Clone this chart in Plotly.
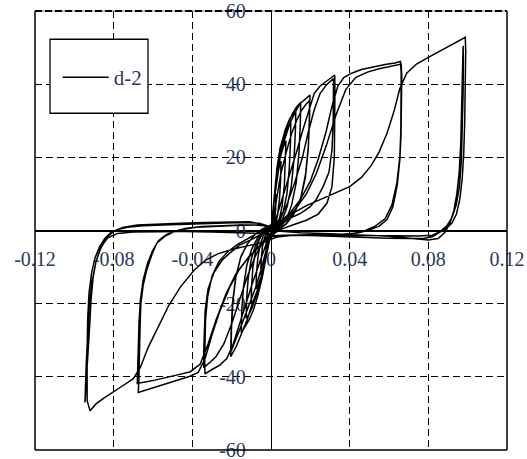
import plotly.graph_objects as go

# Load (kN) versus drift ratio, specimen d-2; one list pair per loading cycle.
c01_x = [0.0, 0.0008, 0.0016, 0.0025, 0.0024, 0.0018, 0.0010, 0.0003,
         -0.0005, -0.0012, -0.0020, -0.0026, -0.0025, -0.0019, -0.0010, 0.0]
c01_y = [0.0, 4.5, 8.0, 10.0, 6.0, 2.5, 0.5, -0.5,
         -2.0, -4.5, -6.0, -7.0, -4.0, -1.5, 0.0, 0.5]

c02_x = [0.0005, 0.0015, 0.0028, 0.0040, 0.0051, 0.0049, 0.0043, 0.0033, 0.0020, 0.0008,
         -0.0008, -0.0018, -0.0030, -0.0042, -0.0052, -0.0050, -0.0044, -0.0033, -0.0020, -0.0008]
c02_y = [2.0, 8.0, 13.5, 17.0, 19.0, 14.0, 8.5, 4.0, 1.2, -0.5,
         -2.5, -5.5, -8.5, -10.8, -12.0, -8.0, -4.5, -2.0, -0.3, 0.8]

c03_x = [0.0003, 0.0015, 0.0030, 0.0045, 0.0060, 0.0076, 0.0074, 0.0068, 0.0056, 0.0040, 0.0022, 0.0008,
         -0.0008, -0.0020, -0.0035, -0.0050, -0.0063, -0.0076, -0.0074, -0.0067, -0.0055, -0.0040, -0.0022, -0.0008]
c03_y = [1.5, 8.0, 15.0, 19.5, 22.5, 24.5, 19.0, 12.5, 6.5, 2.5, 0.5, -0.8,
         -2.5, -6.0, -9.5, -12.5, -14.5, -16.0, -12.0, -7.5, -3.8, -1.5, 0.3, 1.2]

c04_x = [0.0003, 0.0015, 0.0030, 0.0046, 0.0065, 0.0082, 0.0101, 0.0099, 0.0093, 0.0081, 0.0062, 0.0040, 0.0020, 0.0006,
         -0.0008, -0.0022, -0.0040, -0.0056, -0.0072, -0.0087, -0.0101, -0.0099, -0.0092, -0.0078, -0.0060, -0.0040, -0.0020, -0.0006]
c04_y = [1.5, 9.0, 17.0, 22.5, 26.0, 28.0, 29.5, 24.0, 17.0, 10.0, 5.0, 2.0, 0.3, -1.0,
         -2.5, -6.5, -11.0, -14.5, -17.0, -18.8, -20.0, -15.5, -10.0, -5.5, -2.5, -0.5, 0.8, 1.2]

c05_x = [0.0004, 0.0018, 0.0035, 0.0052, 0.0072, 0.0095, 0.0112, 0.0126, 0.0124, 0.0117, 0.0103, 0.0082, 0.0058, 0.0034, 0.0015, 0.0004,
         -0.0008, -0.0022, -0.0040, -0.0060, -0.0080, -0.0098, -0.0113, -0.0126, -0.0124, -0.0116, -0.0101, -0.0080, -0.0056, -0.0033, -0.0014, -0.0003]
c05_y = [2.0, 10.0, 18.0, 23.5, 27.5, 30.5, 31.8, 32.5, 27.0, 19.5, 12.0, 6.5, 3.0, 1.0, -0.3, -1.0,
         -2.5, -6.5, -11.5, -15.5, -18.8, -21.3, -23.0, -24.0, -19.0, -13.0, -8.0, -4.3, -1.8, 0.0, 1.0, 1.2]

c06_x = [0.0004, 0.0020, 0.0040, 0.0060, 0.0085, 0.0110, 0.0130, 0.0151, 0.0149, 0.0142, 0.0128, 0.0105, 0.0078, 0.0048, 0.0022, 0.0005,
         -0.0008, -0.0024, -0.0045, -0.0068, -0.0090, -0.0112, -0.0132, -0.0151, -0.0149, -0.0140, -0.0123, -0.0098, -0.0068, -0.0040, -0.0016, -0.0003]
c06_y = [2.0, 11.0, 19.0, 24.5, 29.0, 32.0, 33.8, 35.0, 29.0, 21.0, 13.0, 7.0, 3.0, 1.0, -0.3, -1.2,
         -2.5, -7.0, -13.0, -18.0, -21.8, -24.5, -26.5, -28.0, -22.0, -15.5, -9.5, -5.0, -2.0, 0.0, 1.0, 1.3]

c07_x = [0.0005, 0.0022, 0.0045, 0.0070, 0.0097, 0.0125, 0.0150, 0.0175, 0.0198, 0.0196, 0.0190, 0.0176, 0.0152, 0.0118, 0.0080, 0.0045, 0.0020, 0.0005,
         -0.0008, -0.0025, -0.0048, -0.0072, -0.0098, -0.0122, -0.0145, -0.0175, -0.0205, -0.0203, -0.0196, -0.0180, -0.0155, -0.0122, -0.0085, -0.0050, -0.0020, -0.0004]
c07_y = [2.0, 11.0, 19.5, 25.0, 29.4, 32.5, 34.8, 36.0, 37.0, 31.0, 23.0, 15.5, 9.0, 4.8, 2.0, 0.5, -0.5, -1.3,
         -2.5, -7.0, -12.5, -17.0, -20.5, -24.5, -27.5, -31.5, -34.5, -28.0, -20.0, -13.0, -7.5, -3.8, -1.3, 0.2, 1.0, 1.3]

c08_x = [0.0005, 0.0025, 0.0050, 0.0078, 0.0105, 0.0130, 0.0155, 0.0178, 0.0196, 0.0195, 0.0189, 0.0175, 0.0150, 0.0115, 0.0078, 0.0042, 0.0018, 0.0004,
         -0.0008, -0.0027, -0.0052, -0.0078, -0.0104, -0.0130, -0.0155, -0.0180, -0.0203, -0.0201, -0.0194, -0.0178, -0.0152, -0.0118, -0.0082, -0.0047, -0.0019, -0.0004]
c08_y = [1.0, 8.0, 15.5, 21.5, 26.5, 30.0, 32.8, 34.5, 35.5, 30.0, 22.0, 14.5, 8.5, 4.4, 1.8, 0.4, -0.6, -1.4,
         -2.0, -6.0, -11.0, -15.5, -19.5, -23.0, -26.5, -30.0, -33.0, -27.0, -19.5, -12.5, -7.0, -3.5, -1.1, 0.3, 1.1, 1.4]

c09_x = [0.0010, 0.0030, 0.0060, 0.0095, 0.0130, 0.0165, 0.0195, 0.0220, 0.0250, 0.0280, 0.0305, 0.0324,
         0.0325, 0.0325, 0.0322, 0.0310, 0.0285, 0.0240, 0.0180, 0.0110, 0.0050, 0.0010,
         -0.0010, -0.0030, -0.0060, -0.0095, -0.0130, -0.0165, -0.0195, -0.0225, -0.0260, -0.0300, -0.0336,
         -0.0337, -0.0336, -0.0333, -0.0322, -0.0300, -0.0265, -0.0220, -0.0170, -0.0110, -0.0060, -0.0020]
c09_y = [0.5, 4.0, 9.0, 15.0, 21.5, 28.0, 33.5, 37.5, 39.5, 40.8, 41.8, 42.5,
         38.0, 30.0, 20.0, 12.0, 7.5, 4.5, 2.8, 1.5, 0.3, -1.0,
         -1.5, -4.5, -9.0, -14.5, -20.5, -26.5, -31.5, -35.0, -36.8, -38.0, -39.2,
         -35.0, -30.0, -24.5, -18.0, -12.5, -8.5, -5.8, -3.8, -2.0, -0.5, 1.0]

c10_x = [0.0010, 0.0040, 0.0080, 0.0120, 0.0160, 0.0190, 0.0220, 0.0250, 0.0285, 0.0318,
         0.0318, 0.0316, 0.0310, 0.0295, 0.0265, 0.0230, 0.0200, 0.0150, 0.0110, 0.0060, 0.0020,
         -0.0010, -0.0040, -0.0080, -0.0120, -0.0160, -0.0200, -0.0240, -0.0280, -0.0310, -0.0342,
         -0.0342, -0.0340, -0.0335, -0.0320, -0.0290, -0.0250, -0.0210, -0.0160, -0.0100, -0.0050, -0.0010]
c10_y = [0.5, 3.0, 7.0, 13.0, 20.0, 27.0, 33.0, 37.5, 40.0, 41.5,
         36.0, 29.0, 22.0, 16.0, 12.0, 8.5, 6.5, 4.7, 3.7, 2.0, 0.0,
         -1.0, -3.0, -7.0, -12.5, -19.0, -25.5, -31.0, -34.5, -36.0, -37.5,
         -33.0, -28.0, -22.0, -16.0, -11.5, -8.2, -6.2, -4.0, -2.5, -1.0, 0.5]

c11_x = [0.0010, 0.0050, 0.0100, 0.0150, 0.0200, 0.0240, 0.0280, 0.0310, 0.0340, 0.0370, 0.0410, 0.0460, 0.0520, 0.0580, 0.0630, 0.0658,
         0.0662, 0.0662, 0.0660, 0.0655, 0.0640, 0.0615, 0.0580, 0.0530, 0.0480, 0.0420, 0.0350, 0.0250, 0.0150, 0.0060, 0.0010,
         -0.0020, -0.0060, -0.0110, -0.0160, -0.0210, -0.0260, -0.0300, -0.0335, -0.0370, -0.0420, -0.0480, -0.0540, -0.0600, -0.0645, -0.0675,
         -0.0672, -0.0668, -0.0666, -0.0662, -0.0650, -0.0632, -0.0605, -0.0580, -0.0540, -0.0500, -0.0450, -0.0380, -0.0280, -0.0180, -0.0080, -0.0020]
c11_y = [0.5, 2.5, 5.0, 8.5, 13.5, 19.5, 27.0, 34.0, 39.5, 41.8, 43.0, 44.0, 44.8, 45.4, 45.8, 46.2,
         43.0, 35.0, 27.0, 20.0, 13.0, 7.0, 3.2, 1.2, 0.0, -0.8, -1.1, -1.2, -1.2, -1.3, -1.5,
         -2.5, -4.5, -7.0, -10.5, -15.5, -22.0, -28.5, -35.0, -38.8, -40.0, -41.0, -42.0, -43.0, -43.6, -44.3,
         -41.0, -35.0, -27.0, -20.0, -15.0, -10.8, -6.5, -3.4, -1.6, -0.5, 0.3, 0.9, 1.2, 1.4, 1.5, 1.2]

c12_x = [0.0010, 0.0060, 0.0120, 0.0180, 0.0230, 0.0280, 0.0330, 0.0380, 0.0430, 0.0490, 0.0550, 0.0600, 0.0640, 0.0662,
         0.0665, 0.0664, 0.0661, 0.0655, 0.0642, 0.0620, 0.0590, 0.0550, 0.0500, 0.0440, 0.0360, 0.0260, 0.0160, 0.0070, 0.0010,
         -0.0020, -0.0070, -0.0120, -0.0180, -0.0230, -0.0280, -0.0320, -0.0360, -0.0410, -0.0470, -0.0530, -0.0590, -0.0640, -0.0680,
         -0.0678, -0.0675, -0.0671, -0.0664, -0.0650, -0.0628, -0.0602, -0.0572, -0.0535, -0.0490, -0.0430, -0.0350, -0.0250, -0.0150, -0.0060, -0.0010]
c12_y = [0.3, 2.5, 5.5, 10.0, 15.5, 23.0, 31.5, 38.5, 41.8, 43.3, 44.2, 44.8, 45.2, 45.5,
         42.0, 34.0, 26.0, 19.3, 12.5, 6.5, 3.0, 1.2, 0.1, -0.7, -1.0, -1.1, -1.2, -1.3, -1.6,
         -2.3, -4.8, -7.8, -12.0, -17.5, -24.5, -31.0, -36.5, -38.6, -39.4, -40.2, -40.9, -41.4, -41.8,
         -38.0, -32.0, -25.0, -19.0, -13.5, -9.0, -5.5, -2.8, -1.2, -0.2, 0.6, 1.1, 1.4, 1.5, 1.5, 1.0]

c13_x = [0.0020, 0.0060, 0.0110, 0.0180, 0.0260, 0.0340, 0.0400, 0.0460, 0.0510, 0.0550, 0.0590, 0.0625, 0.0655, 0.0690, 0.0740, 0.0800, 0.0860, 0.0920, 0.0965, 0.0988,
         0.0990, 0.0988, 0.0985, 0.0980, 0.0972, 0.0960, 0.0943, 0.0920, 0.0890, 0.0855, 0.0820, 0.0780, 0.0700, 0.0600, 0.0500, 0.0400, 0.0300, 0.0200, 0.0100, 0.0030,
         -0.0020, -0.0060, -0.0120, -0.0200, -0.0270, -0.0330, -0.0390, -0.0460, -0.0520, -0.0580, -0.0625, -0.0665, -0.0700, -0.0750, -0.0800, -0.0850, -0.0890, -0.0920,
         -0.0935, -0.0936, -0.0935, -0.0932, -0.0925, -0.0912, -0.0895, -0.0872, -0.0845, -0.0815, -0.0780, -0.0730, -0.0650, -0.0550, -0.0450, -0.0350, -0.0250, -0.0150, -0.0060, 0.0]
c13_y = [-0.5, 1.8, 4.7, 6.8, 8.7, 10.5, 12.0, 14.5, 17.8, 21.5, 26.6, 32.5, 38.8, 43.0, 45.5, 47.3, 49.0, 50.7, 52.0, 52.8,
         49.0, 40.0, 30.0, 21.0, 14.0, 8.5, 4.5, 2.0, 0.6, -0.6, -1.7, -2.1, -2.2, -2.1, -1.9, -1.7, -1.5, -1.4, -1.4, -1.8,
         -2.8, -3.5, -4.2, -5.2, -6.4, -8.0, -10.8, -15.4, -20.5, -27.0, -32.0, -37.5, -40.5, -42.3, -44.0, -45.8, -47.4, -49.3,
         -46.5, -40.0, -32.0, -24.0, -17.0, -11.5, -7.5, -4.5, -2.2, -0.6, 0.3, 0.9, 1.3, 1.5, 1.7, 1.9, 2.1, 2.2, 2.0, 1.0]

c14_x = [0.0050, 0.0150, 0.0300, 0.0450, 0.0600, 0.0720, 0.0800, 0.0850, 0.0885, 0.0910, 0.0930, 0.0945, 0.0957, 0.0965, 0.0970, 0.0974, 0.0977,
         0.0978, 0.0977, 0.0974, 0.0968, 0.0958, 0.0942, 0.0920, 0.0893, 0.0860, 0.0820, 0.0750, 0.0650, 0.0520, 0.0380, 0.0240, 0.0120, 0.0030,
         -0.0050, -0.0150, -0.0300, -0.0450, -0.0600, -0.0700, -0.0780, -0.0830, -0.0865, -0.0890, -0.0905, -0.0915, -0.0922, -0.0930, -0.0938, -0.0946,
         -0.0944, -0.0940, -0.0934, -0.0925, -0.0910, -0.0890, -0.0865, -0.0835, -0.0800, -0.0750, -0.0680, -0.0580, -0.0460, -0.0340, -0.0220, -0.0110, -0.0030]
c14_y = [-0.2, -0.6, -0.9, -1.2, -1.6, -2.2, -2.6, -2.2, -0.5, 2.0, 5.5, 10.0, 16.0, 24.0, 33.0, 42.0, 50.5,
         47.0, 38.0, 28.0, 19.0, 12.0, 7.0, 3.5, 1.2, -0.3, -1.3, -1.5, -1.5, -1.4, -1.3, -1.2, -1.2, -1.4,
         -0.8, -0.6, -0.4, -0.3, -0.3, -0.4, -0.8, -2.0, -4.5, -8.5, -13.0, -19.0, -26.0, -33.0, -40.0, -47.0,
         -44.0, -37.0, -29.0, -21.0, -14.0, -8.5, -4.8, -2.0, -0.2, 0.9, 1.5, 1.8, 2.0, 2.2, 2.4, 2.4, 1.5]

cycles_x = [c01_x, c02_x, c03_x, c04_x, c05_x, c06_x, c07_x,
            c08_x, c09_x, c10_x, c11_x, c12_x, c13_x, c14_x]
cycles_y = [c01_y, c02_y, c03_y, c04_y, c05_y, c06_y, c07_y,
            c08_y, c09_y, c10_y, c11_y, c12_y, c13_y, c14_y]

x_ticks = [-0.12, -0.08, -0.04, 0, 0.04, 0.08, 0.12]
x_labels = ["-0.12", "-0.08", "-0.04", "0", "0.04", "0.08", "0.12"]
y_ticks = [-60, -40, -20, 0, 20, 40, 60]
y_labels = ["-60", "-40", "-20", "0", "20", "40", "60"]

drift = [v for cyc in cycles_x for v in cyc]
load = [v for cyc in cycles_y for v in cyc]

FONT = "Liberation Serif, Times New Roman, serif"
LABEL_COLOR = "#2a3a5c"

fig = go.Figure()
fig.add_trace(go.Scatter(
    x=drift, y=load, mode="lines", name="d-2",
    line=dict(color="black", width=1.5),
))

axis_common = dict(
    showgrid=True, gridcolor="black", gridwidth=1.3, griddash="7px,4px",
    zeroline=True, zerolinecolor="black", zerolinewidth=1.4,
    showline=True, linecolor="black", linewidth=1.4,
    ticks="", anchor="free", position=0.5, layer="below traces",
    ticklabeloverflow="allow", automargin=False,
    tickfont=dict(family=FONT, size=20, color=LABEL_COLOR),
)

fig.update_layout(
    width=527, height=459,
    margin=dict(l=35, r=20, t=11, b=9),
    paper_bgcolor="white", plot_bgcolor="white",
    xaxis=dict(range=[-0.12, 0.12], tickvals=x_ticks, ticktext=x_labels,
               ticklabelstandoff=10, **axis_common),
    yaxis=dict(range=[-60, 60], tickvals=y_ticks, ticktext=y_labels,
               ticklabelstandoff=21, **axis_common),
    showlegend=True,
    legend=dict(x=0.048, y=0.895, xanchor="left", yanchor="top",
                bgcolor="rgba(0,0,0,0)", borderwidth=0, itemwidth=46,
                font=dict(family=FONT, size=21, color=LABEL_COLOR)),
    shapes=[
        # legend frame
        dict(type="rect", xref="paper", yref="paper", x0=0.0318, x1=0.2394,
             y0=0.7671, y1=0.9356, line=dict(color="black", width=1.3),
             fillcolor="white", layer="above"),
        # plot frame
        dict(type="line", xref="paper", yref="paper", x0=0, x1=0, y0=0, y1=1,
             line=dict(color="black", width=1.5)),
        dict(type="line", xref="paper", yref="paper", x0=1, x1=1, y0=0, y1=1,
             line=dict(color="black", width=1.5)),
        dict(type="line", xref="paper", yref="paper", x0=0, x1=1, y0=0, y1=0,
             line=dict(color="black", width=1.5)),
        dict(type="line", xref="paper", yref="paper", x0=0, x1=1, y0=1, y1=1,
             line=dict(color="#777777", width=1)),
        dict(type="line", xref="paper", yref="paper", x0=0, x1=1, y0=1, y1=1,
             line=dict(color="black", width=2, dash="7px,3px")),
    ],
)

fig.write_html("out.html")
